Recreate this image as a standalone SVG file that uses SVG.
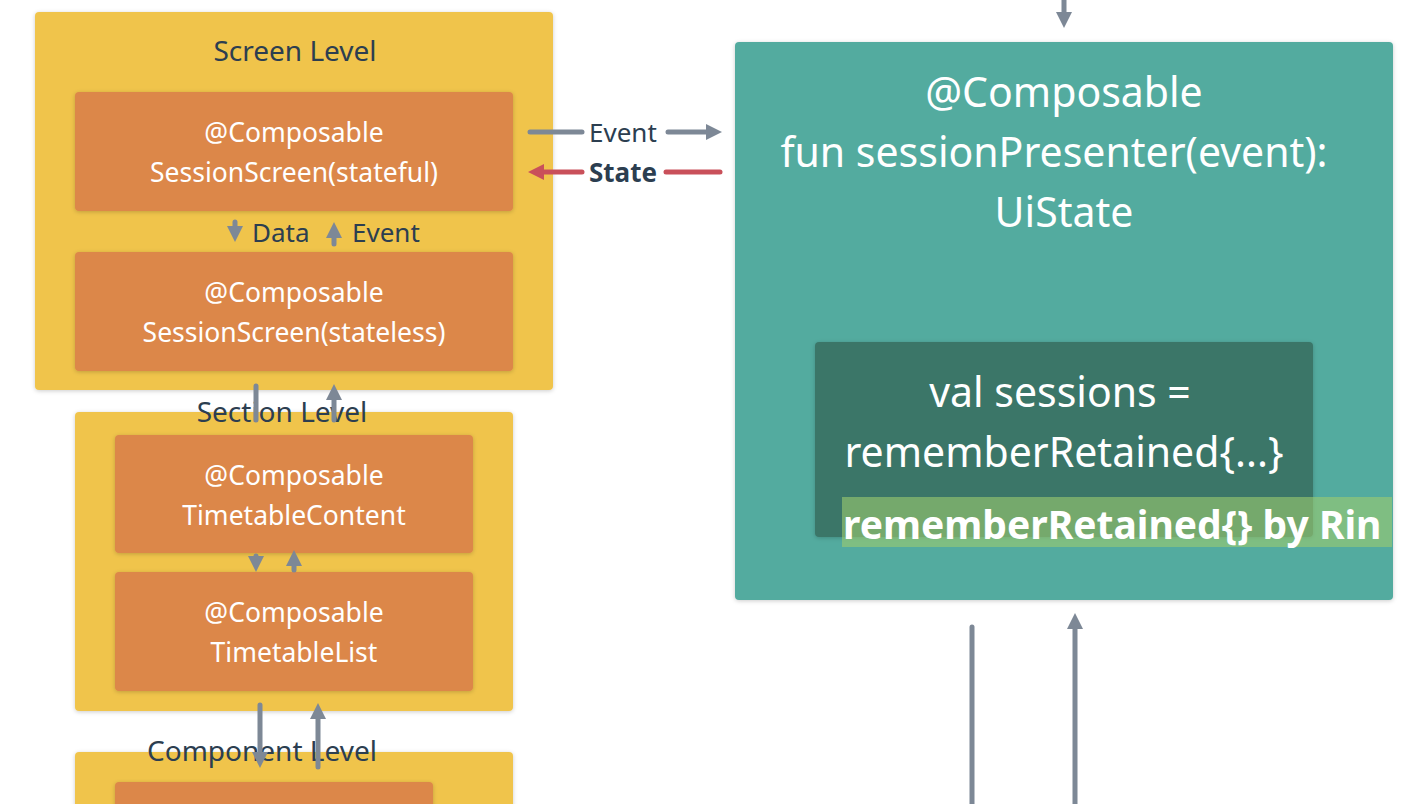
<svg xmlns="http://www.w3.org/2000/svg" width="1422" height="804" viewBox="0 0 1422 804">
<defs>
<marker id="ag" viewBox="0 0 10 10" refX="5" refY="5" markerWidth="3.2" markerHeight="3.2" orient="auto"><path d="M0,0L10,5L0,10z" fill="#7d8896"/></marker>
<marker id="ar" viewBox="0 0 10 10" refX="5" refY="5" markerWidth="3.2" markerHeight="3.2" orient="auto-start-reverse"><path d="M0,0L10,5L0,10z" fill="#c9505a"/></marker>
<filter id="sh" x="-5%" y="-5%" width="110%" height="110%"><feDropShadow dx="0" dy="1" stdDeviation="2" flood-opacity="0.2"/></filter>
<clipPath id="cp"><rect x="0" y="0" width="1392" height="804"/></clipPath>
</defs>
<style>
text{font-family:"Noto Sans","Liberation Sans",sans-serif}
.lvl{fill:#f0c44c;filter:url(#sh)}
.or{fill:#dc8748;filter:url(#sh)}
.lt{font-size:28px;fill:#2c3e50;text-anchor:middle}
.ot{font-size:26.5px;fill:#fff;text-anchor:middle}
.big{font-size:41px;fill:#fff;text-anchor:middle}
.g{stroke:#7d8896;stroke-width:5;stroke-linecap:round;fill:none}
.r{stroke:#c9505a;stroke-width:5;stroke-linecap:round;fill:none}
.cl{font-size:26px;fill:#2c3e50}
</style>
<rect width="1422" height="804" fill="#fff"/>
<g id="screen-level">
<rect class="lvl" x="35" y="12" width="518" height="378" rx="4"/>
<text class="lt" x="295" y="61">Screen Level</text>
</g>
<g id="session-stateful">
<rect class="or" x="75" y="92" width="438" height="119" rx="4"/>
<text class="ot" x="294" y="142">@Composable</text>
<text class="ot" x="294" y="182">SessionScreen(stateful)</text>
</g>
<g id="session-stateless">
<rect class="or" x="75" y="252" width="438" height="119" rx="4"/>
<text class="ot" x="294" y="302">@Composable</text>
<text class="ot" x="294" y="342">SessionScreen(stateless)</text>
</g>
<g id="section-level">
<rect class="lvl" x="75" y="412" width="438" height="299" rx="4"/>
<text class="lt" x="282" y="422">Section Level</text>
</g>
<g id="timetable-content">
<rect class="or" x="115" y="435" width="358" height="118" rx="4"/>
<text class="ot" x="294" y="485">@Composable</text>
<text class="ot" x="294" y="525">TimetableContent</text>
</g>
<g id="timetable-list">
<rect class="or" x="115" y="572" width="358" height="119" rx="4"/>
<text class="ot" x="294" y="622">@Composable</text>
<text class="ot" x="294" y="662">TimetableList</text>
</g>
<g id="component-level">
<rect class="lvl" x="75" y="752" width="438" height="80" rx="4"/>
<rect class="or" x="115" y="782" width="318" height="60" rx="4"/>
<text class="lt" x="262" y="761">Component Level</text>
</g>
<g id="presenter">
<rect x="735" y="42" width="658" height="558" rx="4" fill="#52ab9f" filter="url(#sh)"/>
<text class="big" x="1064" y="107">@Composable</text>
<text class="big" x="1054" y="167">fun sessionPresenter(event):</text>
<text class="big" x="1064" y="227">UiState</text>
<rect x="815" y="342" width="498" height="195" rx="4" fill="#3b7668" filter="url(#sh)"/>
<text class="big" x="1060" y="407">val sessions =</text>
<text class="big" x="1064" y="467">rememberRetained{...}</text>
<rect x="842" y="497" width="550" height="50" fill="#9ccb6f" opacity="0.6"/>
<text x="843" y="539" font-size="39" font-weight="bold" fill="#fff" clip-path="url(#cp)">rememberRetained{} by Rin</text>
</g>
<g id="connectors">
<line class="g" x1="530" y1="132" x2="582" y2="132"/>
<text class="cl" x="589" y="142">Event</text>
<line class="g" x1="668" y1="132" x2="714" y2="132" marker-end="url(#ag)"/>
<line class="r" x1="536" y1="172" x2="582" y2="172" marker-start="url(#ar)"/>
<text class="cl" x="589" y="182" font-weight="bold">State</text>
<line class="r" x1="666" y1="172" x2="720" y2="172"/>
<line class="g" x1="235" y1="222" x2="235" y2="234" marker-end="url(#ag)"/>
<text class="cl" x="252" y="242">Data</text>
<line class="g" x1="334" y1="244" x2="334" y2="230" marker-end="url(#ag)"/>
<text class="cl" x="352" y="242">Event</text>
<line class="g" x1="256" y1="386" x2="256" y2="420"/>
<line class="g" x1="334" y1="420" x2="334" y2="392" marker-end="url(#ag)"/>
<line class="g" x1="256" y1="556" x2="256" y2="564" marker-end="url(#ag)"/>
<line class="g" x1="294" y1="570" x2="294" y2="558" marker-end="url(#ag)"/>
<line class="g" x1="260" y1="705" x2="260" y2="760" marker-end="url(#ag)"/>
<line class="g" x1="318" y1="767" x2="318" y2="711" marker-end="url(#ag)"/>
<line class="g" x1="1064" y1="0" x2="1064" y2="20" marker-end="url(#ag)"/>
<line class="g" x1="972" y1="627" x2="972" y2="804"/>
<line class="g" x1="1075" y1="804" x2="1075" y2="621" marker-end="url(#ag)"/>
</g>
</svg>
